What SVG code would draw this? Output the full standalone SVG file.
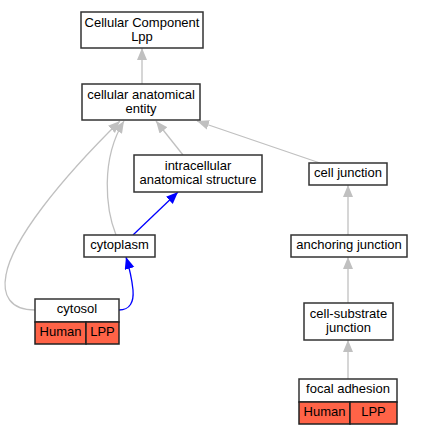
<svg xmlns="http://www.w3.org/2000/svg" width="422" height="435" viewBox="0 0 422 435">
<style>
.box{fill:#fff;stroke:#333;stroke-width:1.5}
.red{fill:#ff6347;stroke:#222;stroke-width:1.5}
text{font-family:"Liberation Sans",Arial,sans-serif;font-size:13px;text-anchor:middle;fill:#000}
.e{fill:none;stroke:#c0c0c0;stroke-width:1.3}
.b{fill:none;stroke:#0000ff;stroke-width:1.3}
</style>
<defs>
<marker id="ag" markerUnits="userSpaceOnUse" markerWidth="13" markerHeight="11" refX="12" refY="5" orient="auto"><path d="M0,0 L12,5 L0,10 z" fill="#c0c0c0"/></marker>
<marker id="ab" markerUnits="userSpaceOnUse" markerWidth="13" markerHeight="11" refX="12" refY="5" orient="auto"><path d="M0,0 L12,5 L0,10 z" fill="#0000ff"/></marker>
</defs>
<rect width="422" height="435" fill="#fff"/>
<g id="edges">
<path class="e" d="M142,84 L142,48" marker-end="url(#ag)"/>
<path class="e" d="M183,155 L156,121" marker-end="url(#ag)"/>
<path class="e" d="M320,163 L197,121" marker-end="url(#ag)"/>
<path class="e" d="M116,235 C106,210 100,160 124,121" marker-end="url(#ag)"/>
<path class="e" d="M35,310 C10,310 2,295 6,275 C12,240 60,180 120,121" marker-end="url(#ag)"/>
<path class="b" d="M133,235 L178,192" marker-end="url(#ab)"/>
<path class="b" d="M119,310 C130,310 134,302 133,290 C132,280 130,270 126,257" marker-end="url(#ab)"/>
<path class="e" d="M348,235 L348,185" marker-end="url(#ag)"/>
<path class="e" d="M348,303 L348,257" marker-end="url(#ag)"/>
<path class="e" d="M348,379 L348,340" marker-end="url(#ag)"/>
</g>
<g id="n_cc">
<rect class="box" x="81" y="12" width="122" height="36"/>
<text x="142" y="27.3">Cellular Component</text>
<text x="142" y="40.7">Lpp</text>
</g>
<g id="n_cae">
<rect class="box" x="82" y="84" width="118" height="36"/>
<text x="141" y="99.3">cellular anatomical</text>
<text x="141" y="112.7">entity</text>
</g>
<g id="n_ias">
<rect class="box" x="134" y="155" width="128" height="37"/>
<text x="198" y="170.3">intracellular</text>
<text x="198" y="183.7">anatomical structure</text>
</g>
<g id="n_cj">
<rect class="box" x="309" y="163" width="78" height="22"/>
<text x="348" y="177.3">cell junction</text>
</g>
<g id="n_cyto">
<rect class="box" x="84" y="235" width="71" height="22"/>
<text x="119.5" y="249.3">cytoplasm</text>
</g>
<g id="n_aj">
<rect class="box" x="291" y="235" width="116" height="22"/>
<text x="349" y="249.3">anchoring junction</text>
</g>
<g id="n_cytosol">
<rect class="box" x="35" y="299" width="84" height="23"/>
<rect class="red" x="35" y="322" width="51" height="22"/>
<rect class="red" x="86" y="322" width="33" height="22"/>
<text x="77" y="313.3">cytosol</text>
<text x="60.5" y="335.5">Human</text>
<text x="102.5" y="335.5">LPP</text>
</g>
<g id="n_csj">
<rect class="box" x="304" y="303" width="89" height="37"/>
<text x="348.5" y="318.3">cell-substrate</text>
<text x="348.5" y="331.7">junction</text>
</g>
<g id="n_fa">
<rect class="box" x="299" y="379" width="98" height="23"/>
<rect class="red" x="299" y="402" width="51" height="22"/>
<rect class="red" x="350" y="402" width="47" height="22"/>
<text x="348" y="393.3">focal adhesion</text>
<text x="324.5" y="415.6">Human</text>
<text x="373.5" y="415.6">LPP</text>
</g>
</svg>
